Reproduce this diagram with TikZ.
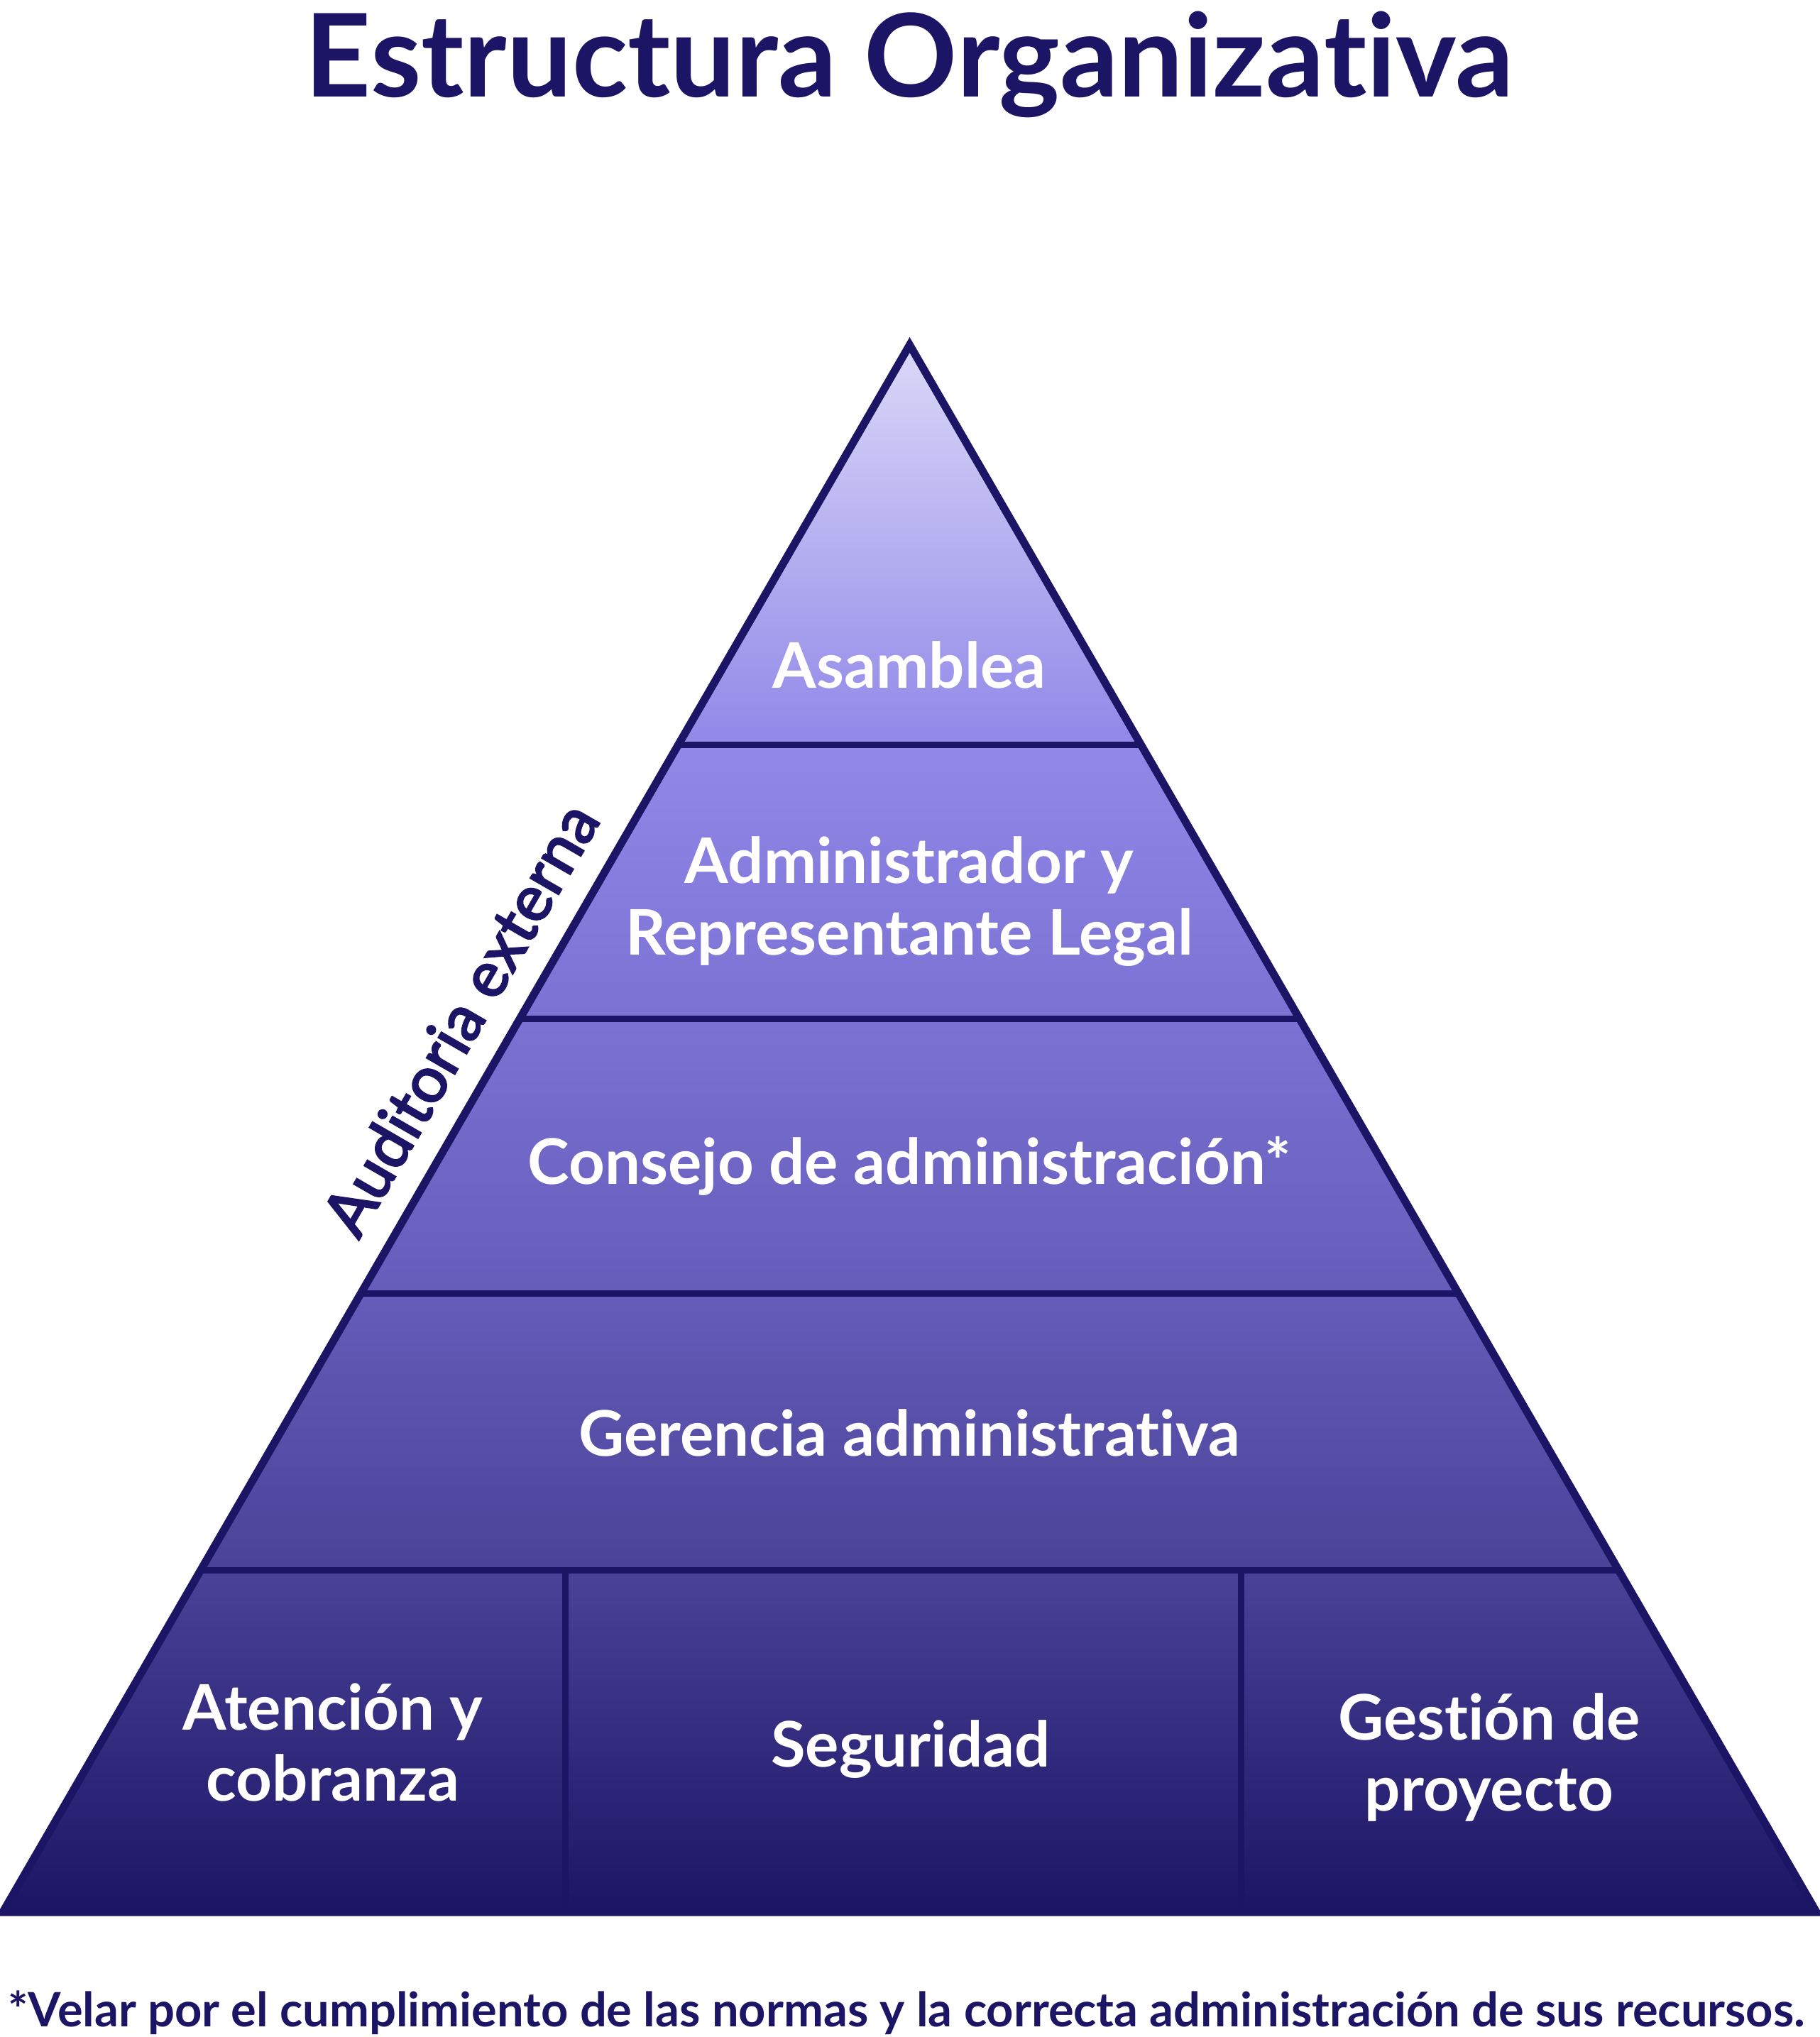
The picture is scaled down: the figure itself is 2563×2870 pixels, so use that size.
\documentclass[tikz,border=0pt]{standalone}
\usepackage{fontspec}
\setmainfont{Lato}[RawFeature=-liga]
\newfontfamily\auditfont{Lato}[RawFeature=-liga, FakeBold=3]
\usetikzlibrary{positioning, calc}
\definecolor{navy}{RGB}{28,20,100}
\pgfdeclareverticalshading{pyramidshade}{100bp}{
  rgb(0bp)=(0.110,0.078,0.392);
  rgb(25bp)=(0.110,0.078,0.392);
  rgb(36.1bp)=(0.290,0.263,0.600);
  rgb(44.9bp)=(0.400,0.361,0.729);
  rgb(53.7bp)=(0.486,0.447,0.831);
  rgb(62.3bp)=(0.569,0.533,0.910);
  rgb(75bp)=(0.855,0.847,0.973);
  rgb(100bp)=(0.855,0.847,0.973)}

\begin{document}
\begin{tikzpicture}[x=0.01cm, y=-0.01cm,
    level/.style={text=white, font=\bfseries\fontsize{25.2}{28.6}\selectfont, align=center},
    sep/.style={navy, line width=0.09cm}]
    \useasboundingbox (0,0) rectangle (2563,2870);
    \coordinate (apex) at (1281.5,486);
    \coordinate (bl) at (4,2694);
    \coordinate (br) at (2559,2694);
    \shade[shading=pyramidshade] (apex) -- (bl) -- (br) -- cycle;
    \begin{scope}
        \clip (apex) -- (bl) -- (br) -- cycle;
        \foreach \y in {1049, 1435, 1822, 2212}
            \draw[sep] (0,\y) -- (2563,\y);
        \draw[sep] (796,2212) -- (796,2694);
        \draw[sep] (1748,2212) -- (1748,2694);
    \end{scope}
    \draw[navy, line width=0.11cm] (apex) -- (bl) -- (br) -- cycle;
    \node[text=navy, font=\bfseries\fontsize{46.2}{52}\selectfont] (title) at (1281,91) {Estructura Organizativa};
    \node[level] (asamblea) at (1281,937) {Asamblea};
    \node[level] (admin) at (1281,1270) {Administrador y\\Representante Legal};
    \node[level] (consejo) at (1281,1643) {Consejo de administración*};
    \node[level] (gerencia) at (1281,2019) {Gerencia administrativa};
    \node[level] (atencion) at (469,2455) {Atención y\\cobranza};
    \node[level] (seguridad) at (1283,2465) {Seguridad};
    \node[level] (gestion) at (2098,2476) {Gestión de\\proyecto};
    \node[text=navy, font=\auditfont\fontsize{25.5}{30}\selectfont, rotate=60] (auditoria) at (648,1435) {Auditoria externa};
    \node[text=navy, font=\bfseries\fontsize{19}{23}\selectfont] (nota) at (1277,2836) {*Velar por el cumplimiento de las normas y la correcta administración de sus recursos.};
\end{tikzpicture}
\end{document}
